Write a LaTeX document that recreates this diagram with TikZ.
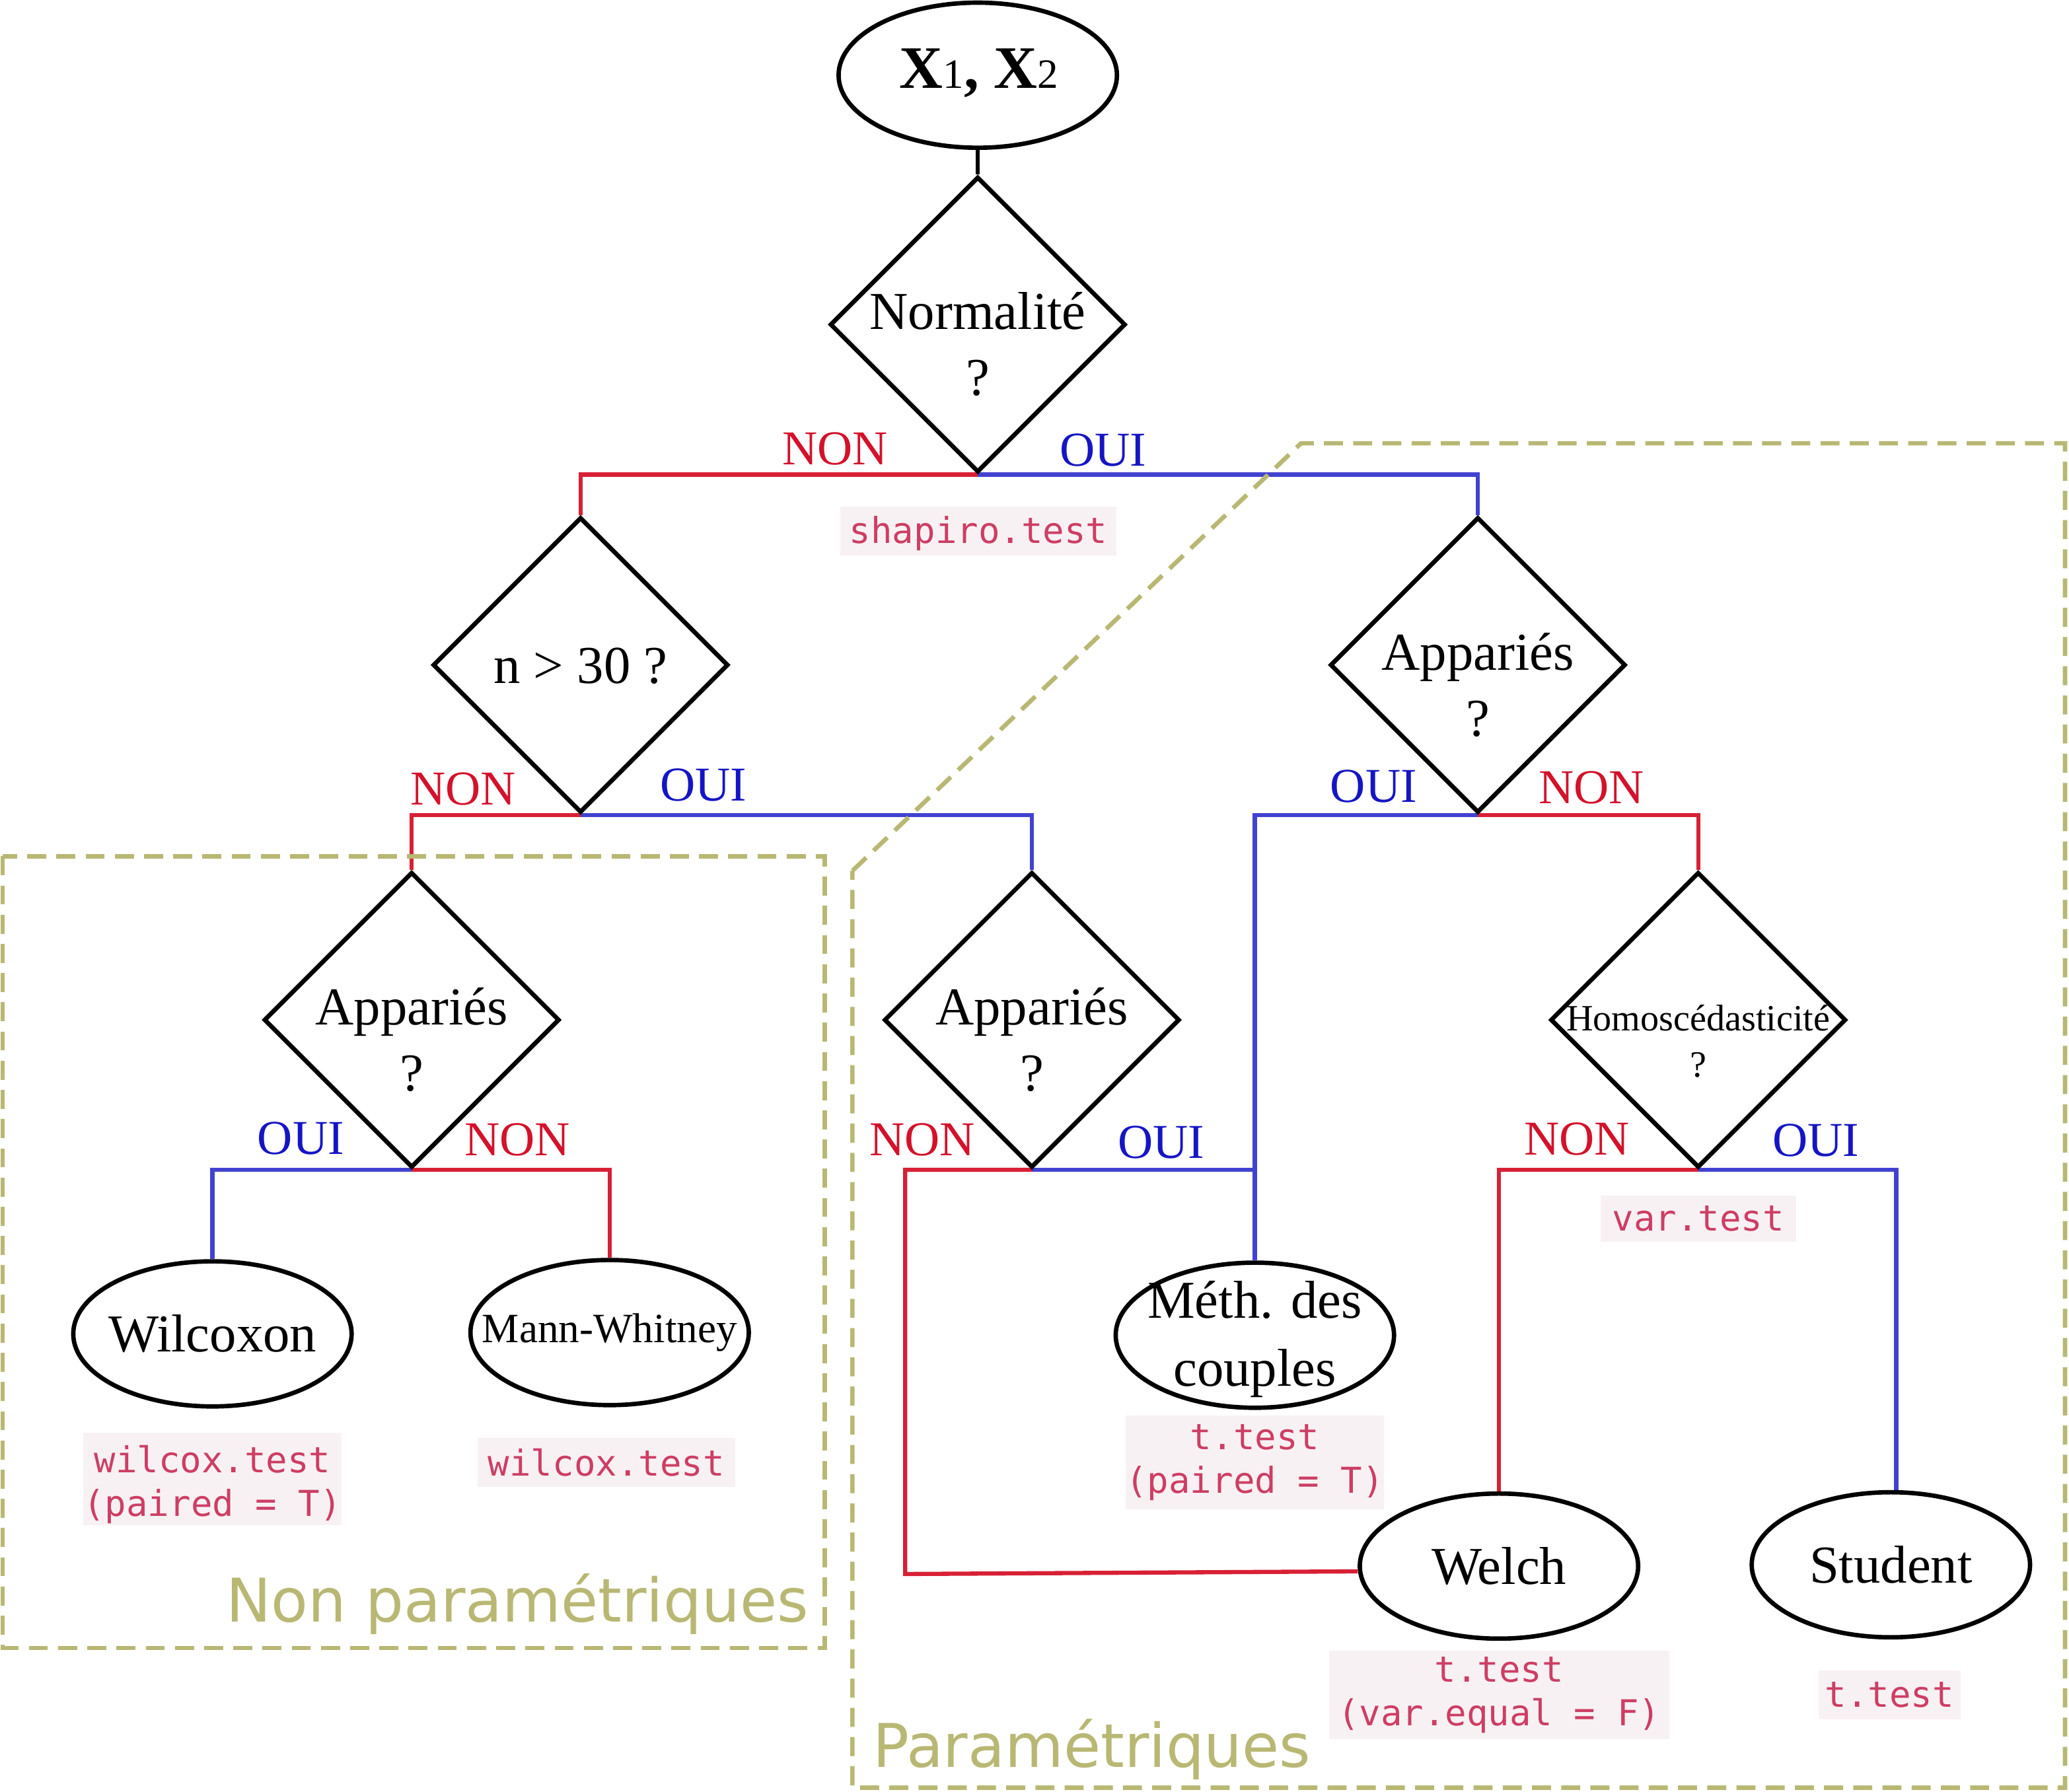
\documentclass[tikz,border=0pt]{standalone}
\usepackage{fontspec}
\setmainfont{Liberation Serif}
\newfontfamily\codefont{DejaVu Sans Mono}
\newfontfamily\zonefont{DejaVu Sans}
\usetikzlibrary{shapes.geometric}
\pgfdeclarelayer{bg}
\pgfsetlayers{bg,main}
\definecolor{redline}{RGB}{216,32,53}
\definecolor{blueline}{RGB}{66,66,208}
\definecolor{redtext}{RGB}{211,18,43}
\definecolor{bluetext}{RGB}{21,21,196}
\definecolor{zoneolive}{RGB}{184,184,116}
\definecolor{codetext}{RGB}{205,62,100}
\definecolor{codebg}{RGB}{248,241,244}
\newcommand{\lowertext}[2]{\raisebox{-#1}[\height][\depth]{#2}}
\begin{document}
\begin{tikzpicture}[x=0.02cm,y=-0.02cm,
  dia/.style={shape=diamond, draw=black, line width=1.9pt, minimum width=4.48cm, minimum height=4.48cm, inner sep=0pt},
  ell/.style={shape=ellipse, draw=black, line width=1.9pt, minimum width=4.22cm, minimum height=2.2cm, inner sep=0pt},
  txt/.style={inner sep=0pt, align=center, font=\fontsize{23}{28.5}\selectfont},
  smalltxt/.style={inner sep=0pt, align=center, font=\fontsize{16}{20}\selectfont},
  nonlab/.style={inner sep=0pt, anchor=base, text=redtext, font=\fontsize{21}{25}\selectfont},
  ouilab/.style={inner sep=0pt, anchor=base, text=bluetext, font=\fontsize{21}{25}\selectfont},
  redconn/.style={draw=redline, line width=1.8pt},
  blueconn/.style={draw=blueline, line width=1.8pt},
  blackconn/.style={draw=black, line width=1.8pt},
  code/.style={fill=codebg, text=codetext, inner sep=0pt, align=center, font=\codefont\fontsize{15.4}{18.8}\selectfont},
  zone/.style={draw=zoneolive, line width=1.9pt, dash pattern=on 8.2pt off 4.4pt},
  zonelab/.style={inner sep=0pt, text=zoneolive, font=\zonefont\fontsize{26}{30}\selectfont}
]
\useasboundingbox (0,0) rectangle (1568,1358);

% zones
\draw[zone] (2,649) rectangle (625,1249);
\draw[zone] (646,660) -- (986,336) -- (1565,336) -- (1565,1355) -- (646,1355) -- cycle;
\node[zonelab, anchor=base east] (zlnp) at (613,1229.5) {Non paramétriques};
\node[zonelab, anchor=base west] (zlp) at (661,1339.5) {Paramétriques};

% shapes
\node[ell] (top) at (741,57) {};
\node[inner sep=0pt, anchor=base] (toptxt) at (742,66.7) {\fontsize{26}{30}\selectfont\textbf{X}{\fontsize{18}{22}\selectfont 1}\textbf{,} \textbf{X}{\fontsize{18}{22}\selectfont 2}};

\node[dia] (norm) at (741,246) {};
\node[txt] (normtxt) at (741,261) {Normalité\\?};

\node[dia] (n30) at (440,504) {};
\node[txt] (n30txt) at (440,505) {n > 30 ?};

\node[dia] (appR) at (1120,504) {};
\node[txt] (appRtxt) at (1120,519) {Appariés\\?};

\node[dia] (appL) at (312,773) {};
\node[txt] (appLtxt) at (312,788) {Appariés\\?};

\node[dia] (appM) at (782,773) {};
\node[txt] (appMtxt) at (782,788) {Appariés\\?};

\node[dia] (homo) at (1287,773) {};
\node[smalltxt] (homotxt) at (1287,789) {Homoscédasticité\\?};

\node[ell] (wil) at (161,1011) {};
\node[txt] (wiltxt) at (161,1011) {Wilcoxon};

\node[ell] (mw) at (462,1010) {};
\node[inner sep=0pt, font=\fontsize{18}{22}\selectfont] (mwtxt) at (462,1010) {Mann-Whitney};

\node[ell] (meth) at (951,1012) {};
\node[txt, font=\fontsize{23}{29.5}\selectfont] (methtxt) at (951,1015) {Méth. des\\couples};

\node[ell] (welch) at (1136,1187) {};
\node[txt] (welchtxt) at (1136,1187) {Welch};

\node[ell] (student) at (1433,1186) {};
\node[txt] (studenttxt) at (1433,1186) {Student};

% connectors
\coordinate (redcorner) at (686,1193);
\begin{pgfonlayer}{bg}
\draw[blackconn] (top.south) -- (norm.north);
\draw[redconn] (norm.south) -| (n30.north);
\draw[blueconn] (norm.south) -| (appR.north);
\draw[redconn] (n30.south) -| (appL.north);
\draw[blueconn] (n30.south) -| (appM.north);
\draw[blueconn] (appR.south) -| (meth.north);
\draw[redconn] (appR.south) -| (homo.north);
\draw[blueconn] (appL.south) -| (wil.north);
\draw[redconn] (appL.south) -| (mw.north);
\draw[blueconn] (appM.south) -- (appM.south -| meth.north);
\draw[redconn] (appM.south) -| (redcorner) -- ([yshift=-0.08cm]welch.west);
\draw[redconn] (homo.south) -| (welch.north);
\draw[blueconn] (homo.south) -| ([xshift=0.08cm]student.north);
\end{pgfonlayer}

% branch labels
\node[nonlab] (l1n) at (633,352) {NON};
\node[ouilab] (l1o) at (836,353) {OUI};
\node[nonlab] (l2n) at (351,610) {NON};
\node[ouilab] (l2o) at (533,607) {OUI};
\node[ouilab] (l3o) at (1041,608) {OUI};
\node[nonlab] (l3n) at (1206,609) {NON};
\node[ouilab] (l4o) at (228,875) {OUI};
\node[nonlab] (l4n) at (392,876) {NON};
\node[nonlab] (l5n) at (699,876) {NON};
\node[ouilab] (l5o) at (880,878) {OUI};
\node[nonlab] (l6n) at (1195,875.5) {NON};
\node[ouilab] (l6o) at (1376,876.5) {OUI};

% code labels
\node[code, minimum width=4.18cm, minimum height=0.74cm] (c1) at (741.5,402.5) {\lowertext{1.1pt}{shapiro.test}};
\node[code, minimum width=2.96cm, minimum height=0.70cm] (c2) at (1287,923.5) {var.test};
\node[code, minimum width=3.92cm, minimum height=1.40cm] (c3) at (161,1121) {\lowertext{2.3pt}{wilcox.test}\\\lowertext{2.3pt}{(paired = T)}};
\node[code, minimum width=3.90cm, minimum height=0.74cm] (c4) at (459.5,1108.5) {wilcox.test};
\node[code, minimum width=3.92cm, minimum height=1.42cm] (c5) at (951,1108.5) {t.test\\(paired = T)};
\node[code, minimum width=5.16cm, minimum height=1.34cm] (c6) at (1136,1284.5) {t.test\\(var.equal = F)};
\node[code, minimum width=2.16cm, minimum height=0.74cm] (c7) at (1432,1284.5) {t.test};
\end{tikzpicture}
\end{document}
